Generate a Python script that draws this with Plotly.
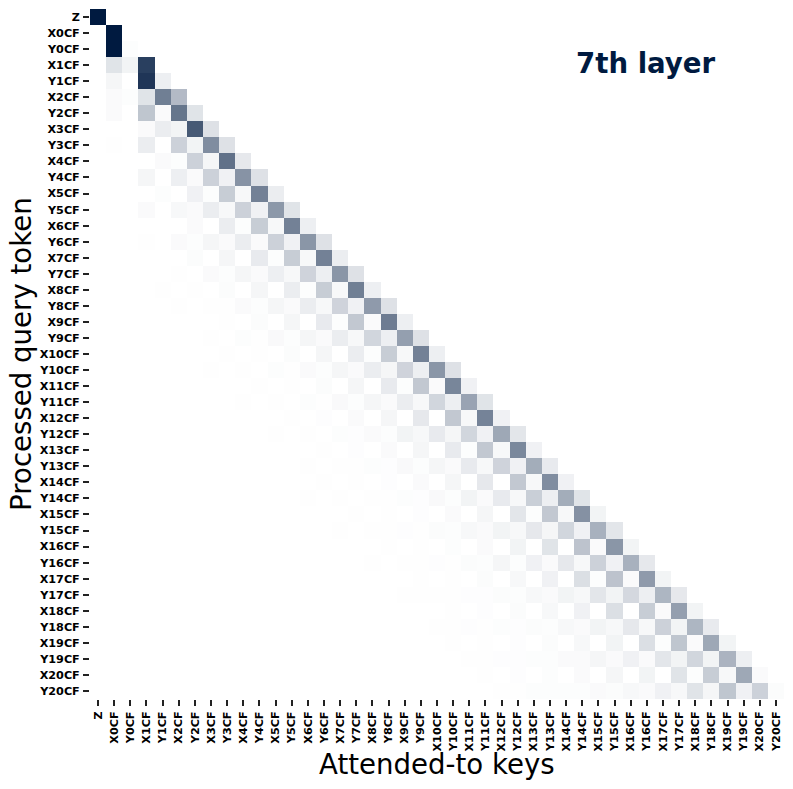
import plotly.graph_objects as go

labels = ["Z", "X0CF", "Y0CF", "X1CF", "Y1CF", "X2CF", "Y2CF", "X3CF", "Y3CF", "X4CF", "Y4CF",
          "X5CF", "Y5CF", "X6CF", "Y6CF", "X7CF", "Y7CF", "X8CF", "Y8CF", "X9CF", "Y9CF",
          "X10CF", "Y10CF", "X11CF", "Y11CF", "X12CF", "Y12CF", "X13CF", "Y13CF", "X14CF", "Y14CF",
          "X15CF", "Y15CF", "X16CF", "Y16CF", "X17CF", "Y17CF", "X18CF", "Y18CF", "X19CF", "Y19CF",
          "X20CF", "Y20CF"]

# Attention (percent) per row, listed from the last attended key backwards
r00 = [100]
r01 = [100]
r02 = [1, 100]
r03 = [84, 5, 12]
r04 = [7, 88, 0, 4]
r05 = [30, 56, 12, 1, 2]
r06 = [12, 60, 2, 25, 0, 2]
r07 = [13, 72, 5, 8, 2]
r08 = [13, 50, 5, 20, 0, 8, 0, 0.5]
r09 = [10, 62, 4, 20, 1, 2]
r10 = [13, 47, 6, 20, 2, 7, 0, 4]
r11 = [8, 55, 3, 22, 1, 6, 0, 1]
r12 = [12, 45, 6, 20, 3, 8, 2, 3, 0, 2]
r13 = [7, 55, 3, 22, 1, 8, 0, 2, 0, 0]
r14 = [13, 46, 6, 20, 2, 8, 2, 4, 1, 2, 0, 0.5]
r15 = [8, 55, 3, 22, 1, 9, 0, 4, 0, 1.5, 0, 0]
r16 = [13, 46, 7, 19, 3, 7, 2, 4, 1, 2, 0, 0.5]
r17 = [7, 56, 3, 22, 1, 8, 0, 4, 0, 1.5, 0, 0.5, 0, 0.3]
r18 = [13, 44, 6, 19, 3, 8, 2, 4, 1, 2, 0.5, 0.5, 0, 0.3]
r19 = [7, 57, 2, 24, 1, 9, 0, 4, 0, 1.5, 0, 0.5]
r20 = [13, 42, 7, 18, 3, 8, 2, 4, 1, 2.5, 0.5, 1, 0, 0.3]
r21 = [7, 55, 3, 22, 1, 8, 0, 4, 0, 1.5, 0, 0.5, 0, 0.3]
r22 = [13, 46, 7, 19, 4, 8, 2, 4, 1, 2, 0.5, 1, 0, 0.5, 0, 0.3]
r23 = [6, 53, 2, 24, 1, 9, 0, 4, 0, 1.5, 0, 0.5, 0, 0.3]
r24 = [12, 40, 7, 18, 3, 8, 2, 4, 1, 2.5, 0.5, 1, 0, 0.5, 0, 0.3]
r25 = [6, 54, 3, 24, 0, 10, 0, 4, 0, 2, 0, 0.7, 0, 0.3]
r26 = [11, 38, 6, 18, 4, 9, 3, 5, 1, 2, 0.7, 1, 0, 0.5, 0, 0.3]
r27 = [6, 52, 3, 24, 1, 9, 0, 4, 0, 2, 0, 0.7, 0, 0.3]
r28 = [9, 36, 6, 19, 3, 9, 2, 4, 1, 2.5, 0.7, 1, 0.3, 0.5, 0, 0.3]
r29 = [6, 50, 3, 24, 0, 10, 0, 4, 0, 2, 0, 0.7, 0, 0.3, 0, 0.3]
r30 = [12, 36, 7, 21, 3, 9, 2, 5, 1, 2.5, 0.7, 1, 0.3, 0.5, 0, 0.3, 0, 0.3]
r31 = [5, 48, 3, 24, 1, 11, 0, 4, 0, 2, 0, 0.7, 0, 0.3, 0, 0.3]
r32 = [11, 34, 6, 18, 4, 10, 3, 5, 2, 3, 1, 1.5, 0.5, 0.7, 0.3, 0.5, 0, 0.3]
r33 = [5, 46, 2, 26, 0, 12, 0, 5, 0, 2, 0, 1, 0, 0.5, 0, 0.3]
r34 = [10, 34, 6, 20, 3, 10, 2, 6, 1, 4, 1, 1.5, 0.5, 0.7, 0.3, 0.5, 0, 0.3]
r35 = [5, 44, 2, 26, 1, 14, 0, 6, 0, 3, 0, 1.5, 0, 0.5, 0, 0.3]
r36 = [10, 32, 7, 17, 5, 11, 3, 5, 2, 3, 1, 1.5, 0.7, 0.7, 0.5, 0.5, 0.3, 0.3]
r37 = [5, 42, 2, 22, 0, 14, 0, 6, 0, 3, 0, 1.5, 0, 0.7, 0, 0.3]
r38 = [9, 32, 5, 20, 3, 10, 3, 5, 2, 3, 1, 1.5, 0.7, 1, 0.5, 0.7, 0.3, 0.3]
r39 = [5, 38, 2, 25, 1, 14, 0, 5, 0, 3, 0, 1.5, 0, 0.7, 0, 0.5, 0, 0.3]
r40 = [7, 33, 5, 18, 5, 11, 2, 6, 2, 4, 2, 2, 1, 1, 0.7, 0.7, 0.3, 0.3]
r41 = [2, 38, 3, 22, 1, 12, 0, 5, 0, 4, 0, 2, 0, 1, 0, 0.7, 0, 0.3]
r42 = [1.5, 20, 6, 25, 4, 12, 3, 6, 2, 3, 1.5, 2, 1, 1, 1, 1, 0.5, 0.5]

rows = [r00, r01, r02, r03, r04, r05, r06, r07, r08, r09, r10, r11, r12, r13, r14, r15, r16, r17,
        r18, r19, r20, r21, r22, r23, r24, r25, r26, r27, r28, r29, r30, r31, r32, r33, r34, r35,
        r36, r37, r38, r39, r40, r41, r42]

n = len(labels)
z = [[None] * n for _ in range(n)]
for i, row in enumerate(rows):
    for back, v in enumerate(row):
        z[i][i - back] = v / 100

fig = go.Figure(go.Heatmap(
    z=z, x=labels, y=labels, zmin=0, zmax=1,
    colorscale=[[0, "#ffffff"], [1, "#001a40"]],
    showscale=False, hoverongaps=False,
))

font = "DejaVu Sans"
fig.update_layout(
    width=793, height=789,
    margin=dict(l=89.7, r=9, t=9, b=90, autoexpand=False),
    paper_bgcolor="white", plot_bgcolor="white",
    font=dict(family=font, color="#000000"),
    annotations=[
        dict(text="<b>7th layer</b>", xref="paper", yref="paper", x=0.8006, y=0.9214,
             xanchor="center", yanchor="middle", showarrow=False,
             font=dict(family=font, size=27.6, color="#001a40")),
        dict(text="Processed query token", xref="paper", yref="paper", x=-0.0989, y=0.5007,
             xanchor="center", yanchor="middle", textangle=-90, showarrow=False,
             font=dict(family=font, size=27.6, color="#000000")),
        dict(text="Attended-to keys", xref="paper", yref="paper", x=0.5, y=-0.0945,
             xanchor="center", yanchor="middle", showarrow=False,
             font=dict(family=font, size=27.6, color="#000000")),
    ],
)
tick = dict(ticks="outside", ticklen=6, tickwidth=1.5, tickcolor="#222222",
            showgrid=False, zeroline=False, showline=False, automargin=False,
            type="category", tickmode="array", tickvals=labels, ticktext=labels,
            ticklabelstandoff=1,
            tickfont=dict(family=font, size=11.2, color="#000000", weight="bold"))
fig.update_xaxes(tickangle=-90, **tick)
fig.update_yaxes(autorange="reversed", **tick)

fig.write_html("out.html", config={"displayModeBar": False},
               post_script="document.body.style.margin='0';")
